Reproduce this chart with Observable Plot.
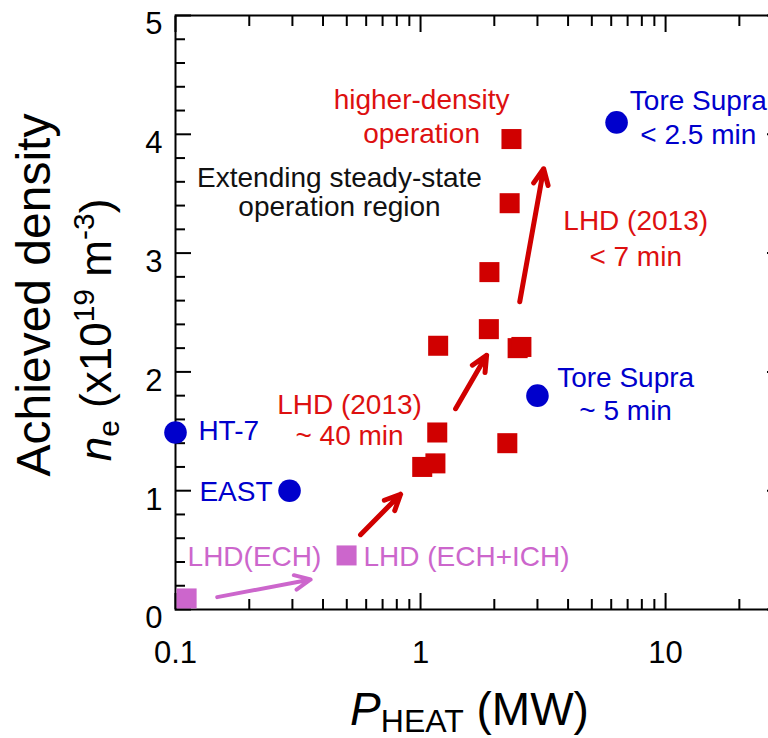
<!DOCTYPE html>
<html><head><meta charset="utf-8">
<script src="https://cdn.jsdelivr.net/npm/d3@7"></script>
<script src="https://cdn.jsdelivr.net/npm/@observablehq/plot@0.6"></script>
<style>
html,body{margin:0;padding:0;overflow:hidden;background:#fff;}
</style>
</head><body><div id="chart"></div>
<script>
const FONT = "'Liberation Sans', Arial, Helvetica, sans-serif";
const BLUE = "#0000cc", RED = "#d00000", PINK = "#cc66cc", TXTRED = "#dd1010";

// Blue circles: other devices
const blueNames = ["HT-7", "EAST", "Tore Supra ~5 min", "Tore Supra <2.5 min"];
const blueX = [0.1, 0.292, 3.0, 6.31];
const blueY = [1.49, 1.0, 1.80, 4.10];

// Red squares: LHD (2013)
const redX = [2.35, 2.31, 1.91, 1.90, 1.18, 2.49, 2.58, 1.17, 2.26, 1.016, 1.15];
const redY = [3.96, 3.42, 2.84, 2.36, 2.22, 2.20, 2.21, 1.49, 1.40, 1.20, 1.23];

// Pink squares: LHD(ECH), LHD(ECH+ICH)
const pinkX = [0.111, 0.499];
const pinkY = [0.093, 0.455];

// Arrows
const arrowX1 = [0.148, 0.569, 1.39, 2.54];
const arrowY1 = [0.104, 0.63, 1.69, 2.59];
const arrowX2 = [0.356, 0.829, 1.86, 3.18];
const arrowY2 = [0.253, 0.97, 2.14, 3.71];
const arrowColor = [PINK, RED, RED, RED];
const arrowWidth = [4, 5, 5, 5];

// Annotations
const annText = ["higher-density", "operation", "Extending steady-state", "operation region",
  "Tore Supra", "< 2.5 min", "LHD (2013)", "< 7 min", "Tore Supra", "~ 5 min",
  "LHD (2013)", "~ 40 min", "HT-7", "EAST", "LHD(ECH)", "LHD (ECH+ICH)"];
const annX = [1.01, 1.01, 0.467, 0.467, 13.6, 13.6, 7.55, 7.55, 6.87, 6.87,
  0.513, 0.513, 0.124, 0.249, 0.112, 0.585];
const annY = [4.29, 4.00, 3.63, 3.39, 4.28, 3.99, 3.27, 2.97, 1.95, 1.67,
  1.72, 1.46, 1.50, 0.99, 0.44, 0.44];
const annColor = [TXTRED, TXTRED, "#111111", "#111111", BLUE, BLUE, TXTRED, TXTRED, BLUE, BLUE,
  TXTRED, TXTRED, BLUE, BLUE, PINK, PINK];
const annAnchor = ["middle", "middle", "middle", "middle", "middle", "middle", "middle", "middle",
  "middle", "middle", "middle", "middle", "start", "end", "start", "start"];

// Ticks
const xMajorTicks = [0.1, 1, 10];
const xTickLabels = ["0.1", "1", "10"];
const xMinorTicks = [0.2, 0.3, 0.4, 0.5, 0.6, 0.7, 0.8, 0.9, 2, 3, 4, 5, 6, 7, 8, 9, 20];
const yMajorTicks = [0, 1, 2, 3, 4, 5];
const yTickLabels = ["0", "1", "2", "3", "4", "5"];
const yMinorTicks = [0.2, 0.4, 0.6, 0.8, 1.2, 1.4, 1.6, 1.8, 2.2, 2.4, 2.6, 2.8,
  3.2, 3.4, 3.6, 3.8, 4.2, 4.4, 4.6, 4.8];

const blue = blueX.map((x, i) => ({name: blueNames[i], x, y: blueY[i]}));
const red = redX.map((x, i) => ({x, y: redY[i]}));
const pink = pinkX.map((x, i) => ({x, y: pinkY[i]}));
const arrows = arrowX1.map((x1, i) => ({x1, y1: arrowY1[i], x2: arrowX2[i], y2: arrowY2[i], c: arrowColor[i], w: arrowWidth[i]}));
const ann = annText.map((t, i) => ({t, x: annX[i], y: annY[i], c: annColor[i], a: annAnchor[i]}));

function titles(index, scales, values, dims) {
  const g = d3.create("svg:g").attr("font-family", FONT).attr("fill", "#000");
  const fx = dims.marginLeft + (dims.width - dims.marginLeft - dims.marginRight) / 2 - 9;
  const xt = g.append("text").attr("x", fx).attr("y", dims.height - 13)
    .attr("text-anchor", "middle").attr("font-size", 46);
  xt.append("tspan").attr("font-style", "italic").text("P");
  xt.append("tspan").attr("font-size", 32).attr("dy", 7).text("HEAT");
  xt.append("tspan").attr("dy", -7).text(" (MW)");

  g.append("text").attr("transform", "translate(50,295) rotate(-90)")
    .attr("text-anchor", "middle").attr("font-size", 48).text("Achieved density");
  const y2 = g.append("text").attr("transform", "translate(111,330) rotate(-90)")
    .attr("text-anchor", "middle").attr("font-size", 44);
  y2.append("tspan").attr("font-style", "italic").text("n");
  y2.append("tspan").attr("font-size", 30).attr("dy", 8).text("e");
  y2.append("tspan").attr("dy", -8).text(" (x10");
  y2.append("tspan").attr("font-size", 30).attr("dy", -17).text("19");
  y2.append("tspan").attr("dy", 17).text(" m");
  y2.append("tspan").attr("font-size", 30).attr("dy", -17).text("-3");
  y2.append("tspan").attr("dy", 17).text(")");
  return g.node();
}

const common = {label: null, strokeWidth: 2, stroke: "#000"};

const plot = Plot.plot({
  width: 800, height: 738,
  marginLeft: 175, marginRight: 18, marginTop: 15, marginBottom: 129,
  style: {fontFamily: FONT, background: "white", maxWidth: "none"},
  x: {type: "log", domain: [0.1, 30]},
  y: {domain: [0, 5]},
  color: {type: "identity"},
  marks: [
    Plot.frame({strokeWidth: 2, stroke: "#000"}),
    // inward ticks
    Plot.axisX({...common, anchor: "bottom", ticks: xMajorTicks, tickSize: -16, fill: "none"}),
    Plot.axisX({...common, anchor: "bottom", ticks: xMinorTicks, tickSize: -10, fill: "none"}),
    Plot.axisX({...common, anchor: "top", ticks: xMajorTicks, tickSize: -16, fill: "none"}),
    Plot.axisX({...common, anchor: "top", ticks: xMinorTicks, tickSize: -10, fill: "none"}),
    Plot.axisY({...common, anchor: "left", ticks: yMajorTicks, tickSize: -16, fill: "none"}),
    Plot.axisY({...common, anchor: "left", ticks: yMinorTicks, tickSize: -10, fill: "none"}),
    Plot.axisY({...common, anchor: "right", ticks: yMajorTicks, tickSize: -16, fill: "none"}),
    Plot.axisY({...common, anchor: "right", ticks: yMinorTicks, tickSize: -10, fill: "none"}),
    // tick labels
    Plot.axisX({label: null, anchor: "bottom", ticks: xMajorTicks, tickSize: 0, tickPadding: 31,
      fontSize: 31, fill: "#000", tickFormat: d => xTickLabels[xMajorTicks.indexOf(d)]}),
    Plot.axisY({label: null, anchor: "left", ticks: yMajorTicks, tickSize: 0, tickPadding: 13,
      dy: 9, fontSize: 31, fill: "#000", tickFormat: d => yTickLabels[yMajorTicks.indexOf(d)]}),
    // arrows
    Plot.arrow(arrows, {x1: "x1", y1: "y1", x2: "x2", y2: "y2", stroke: "c", strokeWidth: "w",
      headLength: 26, headAngle: 50}),
    // points
    Plot.dot(pink, {x: "x", y: "y", symbol: "square", r: 11.3, fill: PINK, stroke: null}),
    Plot.dot(red, {x: "x", y: "y", symbol: "square", r: 11.3, fill: RED, stroke: null}),
    Plot.dot(blue, {x: "x", y: "y", r: 11.3, fill: BLUE, stroke: null}),
    // annotations
    Plot.text(ann.filter(d => d.a === "middle"), {x: "x", y: "y", text: "t", fill: "c", fontSize: 28, textAnchor: "middle"}),
    Plot.text(ann.filter(d => d.a === "start"), {x: "x", y: "y", text: "t", fill: "c", fontSize: 28, textAnchor: "start"}),
    Plot.text(ann.filter(d => d.a === "end"), {x: "x", y: "y", text: "t", fill: "c", fontSize: 28, textAnchor: "end"}),
    titles
  ]
});
document.getElementById("chart").appendChild(plot);
</script>
</body></html>
